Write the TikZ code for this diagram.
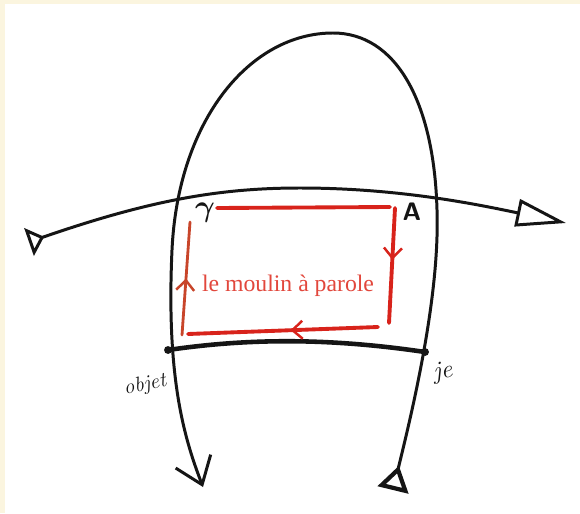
\documentclass[tikz,border=0pt]{standalone}
\usepackage{fontspec}
\usepackage{tikz}
\usepackage{xcolor}
\usetikzlibrary{arrows.meta, decorations.markings}
\newfontfamily\timesfont{Liberation Serif}
\definecolor{inktext}{HTML}{151515}
\definecolor{parolered}{HTML}{D8231B}
\definecolor{paroleleft}{HTML}{C8452A}
\definecolor{paroletext}{HTML}{E2473C}
\definecolor{papercream}{HTML}{FBF5DF}

\begin{document}
\begin{tikzpicture}[
    x=0.02cm, y=-0.02cm,
    ink/.style={draw=inktext, line width=1.7pt, line cap=round},
    band/.style={draw=inktext, line width=2.6pt, line cap=round},
    loopline/.style={draw=#1, line width=2.2pt, line cap=round},
    midarrow/.style={postaction={decorate}, decoration={markings,
        mark=at position #1 with {\arrow{Straight Barb[length=0.2cm, width=0.36cm, line width=1.4pt]}}}},
    dotnode/.style={circle, fill=inktext, inner sep=0pt, minimum size=4.5pt},
    handtext/.style={inner sep=0pt, text=inktext}
]

% paper
\fill[papercream] (0,0) rectangle (580,513);
\fill[white] (5,4) rectangle (580,513);
\useasboundingbox (0,0) rectangle (580,513);

% end points
\coordinate (archstart) at (393,490);
\coordinate (archend) at (203,487);
\coordinate (flowstart) at (29,242);
\coordinate (flowend) at (566,223);
\node[dotnode] (bandL) at (168,350) {};
\node[dotnode] (bandR) at (425,352) {};

% the loop of the arch
\draw[ink, {Triangle[open, reversed, length=0.5cm, width=0.62cm, line width=2.4pt]}-{Straight Barb[length=0.5cm, width=0.75cm]}]
    (archstart) .. controls (410,420) and (440,300) .. (437,210)
    .. controls (434,100) and (395,33) .. (333,33)
    .. controls (250,33) and (178,120) .. (172,250)
    .. controls (166,380) and (185,440) .. (archend);

% the crossing line
\draw[ink, {Triangle[open, reversed, length=0.32cm, width=0.58cm]}-{Triangle[open, length=1cm, width=0.55cm]}]
    (flowstart) .. controls (150,200) and (220,188) .. (300,188)
    .. controls (400,188) and (480,205) .. (flowend);

% the band
\draw[band] (bandL.center) .. controls (250,338) and (330,338) .. (bandR.center);

% the red circuit
\coordinate (topL) at (217,208);
\coordinate (topR) at (390,207);
\coordinate (rightT) at (395,208);
\coordinate (rightB) at (389,323);
\coordinate (botR) at (378,327);
\coordinate (botL) at (188,334);
\coordinate (leftB) at (182,335);
\coordinate (leftT) at (190,222);
\draw[loopline=parolered] (topL) -- (topR);
\draw[loopline=parolered, midarrow=0.45] (rightT) -- (rightB);
\draw[loopline=parolered, midarrow=0.46] (botR) -- (botL);
\draw[loopline=paroleleft, line width=1.6pt, midarrow=0.5] (leftB) -- (leftT);

% labels
\node[handtext, font=\LARGE\boldmath] (gamma) at (205,213) {$\gamma$};
\node[handtext, font=\Large\sffamily\bfseries] (A) at (412,212) {A};
\node[inner sep=0pt, text=paroletext, font=\fontsize{13.5}{16}\selectfont\timesfont] (moulin) at (288,286) {le moulin à parole};
\node[handtext, font=\large\itshape, rotate=12] (objet) at (145,385) {objet};
\node[handtext, font=\Large\itshape, rotate=8] (je) at (443,373) {je};

\end{tikzpicture}
\end{document}
